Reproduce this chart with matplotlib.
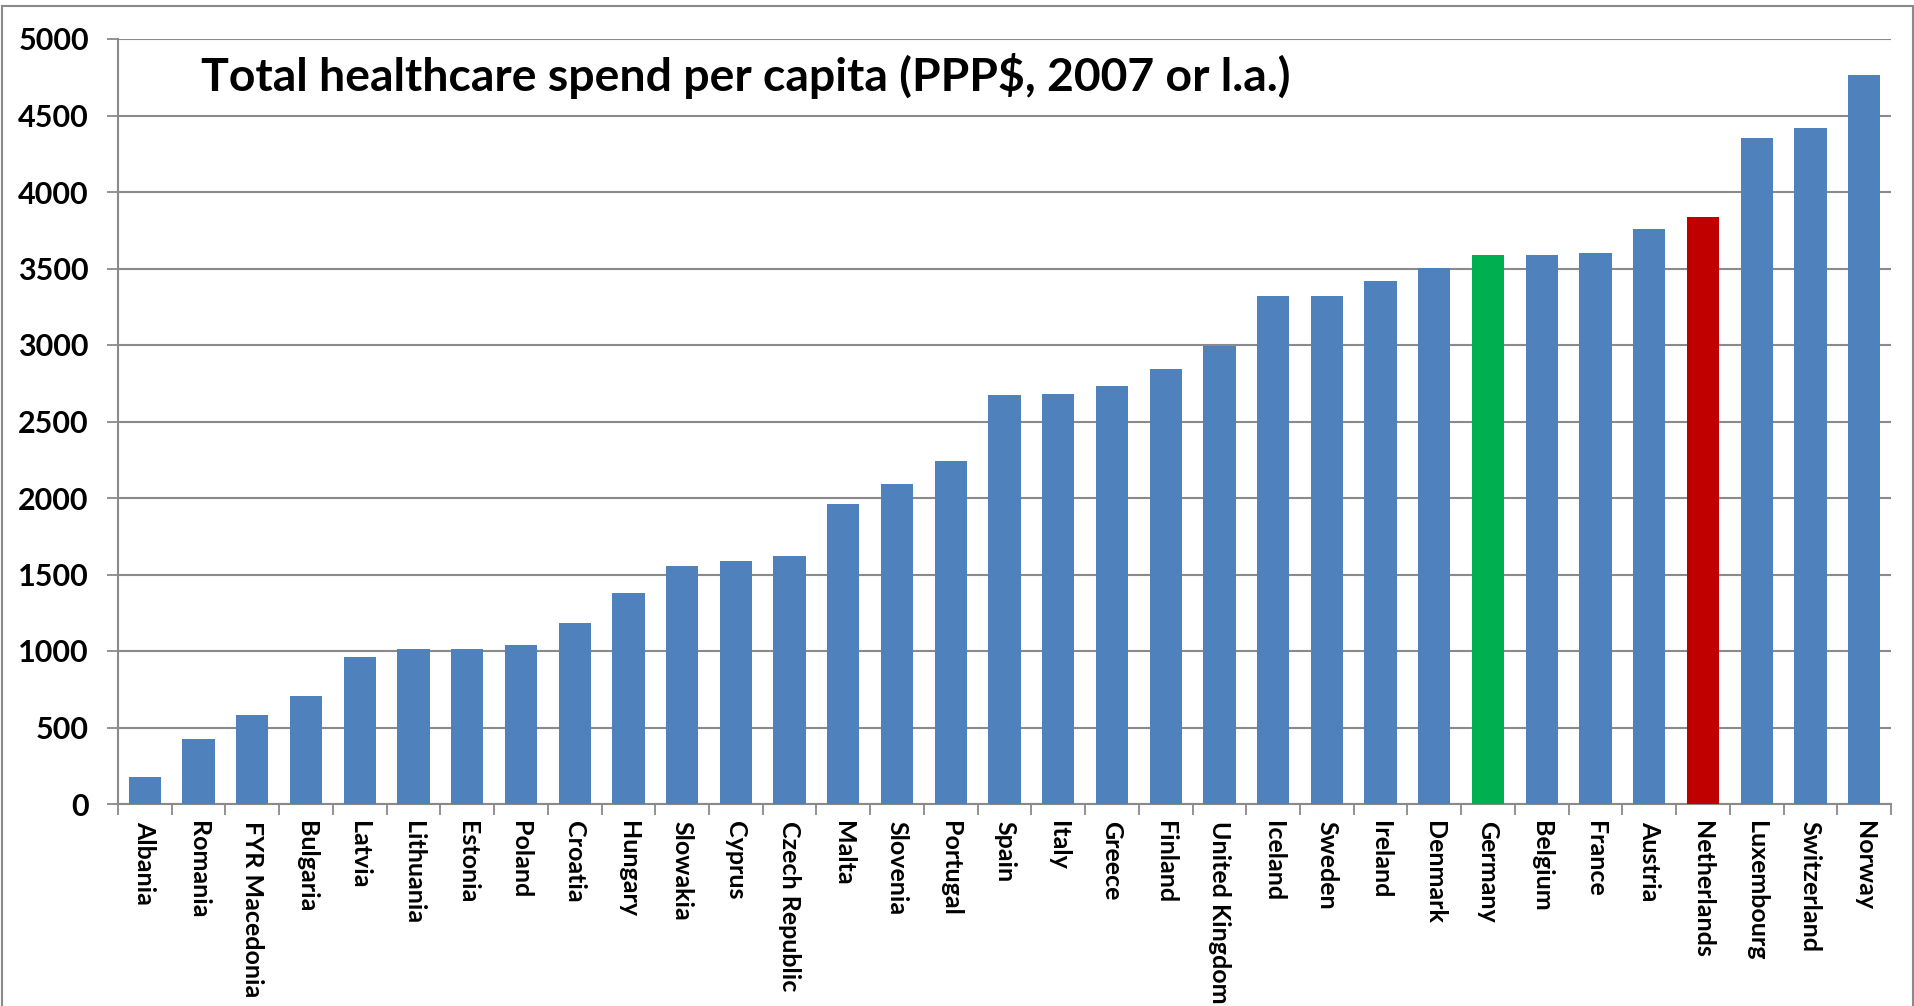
import matplotlib
matplotlib.use("Agg")
import matplotlib.pyplot as plt
from matplotlib.patches import Rectangle
import numpy as np

countries = [
    "Albania", "Romania", "FYR Macedonia", "Bulgaria", "Latvia", "Lithuania",
    "Estonia", "Poland", "Croatia", "Hungary", "Slowakia", "Cyprus",
    "Czech Republic", "Malta", "Slovenia", "Portugal", "Spain", "Italy",
    "Greece", "Finland", "United Kingdom", "Iceland", "Sweden", "Ireland",
    "Denmark", "Germany", "Belgium", "France", "Austria", "Netherlands",
    "Luxembourg", "Switzerland", "Norway",
]
spend = [
    178, 422, 582, 703, 960, 1012,
    1010, 1038, 1182, 1382, 1555, 1589,
    1621, 1958, 2092, 2242, 2672, 2682,
    2730, 2842, 2992, 3318, 3318, 3416,
    3506, 3588, 3588, 3600, 3760, 3835,
    4356, 4420, 4762,
]
highlight = {"Germany": "#00B050", "Netherlands": "#C00000"}
base_color = "#4F81BD"

yticks = [0, 500, 1000, 1500, 2000, 2500, 3000, 3500, 4000, 4500, 5000]
title = "Total healthcare spend per capita (PPP$, 2007 or l.a.)"

plt.rcParams["font.family"] = ["Lato", "DejaVu Sans"]
plt.rcParams["font.weight"] = "bold"

W, H = 1915, 1006
fig = plt.figure(figsize=(W / 100, H / 100), dpi=100)
fig.patch.set_facecolor("white")

# chart-area frame
fig.patches.append(Rectangle((2 / W, -0.05), (W - 4) / W, 1 - 6 / H + 0.05,
                             transform=fig.transFigure, fill=False,
                             edgecolor="#8a8a8a", linewidth=1.5))

ax = fig.add_axes([118 / W, 1 - 804 / H, (1891 - 118) / W, (804 - 39) / H])

x = np.arange(len(countries))
colors = [highlight.get(c, base_color) for c in countries]
ax.bar(x, spend, width=0.6, color=colors, zorder=3)

ax.set_xlim(-0.5, len(countries) - 0.5)
ax.set_ylim(0, 5000)
ax.set_yticks(yticks)
ax.set_yticklabels([str(v) for v in yticks], fontsize=22, fontweight="bold")
ax.yaxis.grid(True, color="#8a8a8a", linewidth=1.5, zorder=0)
ax.set_axisbelow(True)

ax.set_xticks(x)
ax.set_xticklabels(countries, rotation=-90, fontsize=18, fontweight="bold",
                   va="top", ha="center")
ax.set_xticks(np.arange(-0.5, len(countries)), minor=True)
ax.tick_params(axis="x", which="major", length=0, pad=12)
ax.tick_params(axis="x", which="minor", length=8, width=1.3, color="#8a8a8a")
ax.tick_params(axis="y", length=8, width=1.3, color="#8a8a8a", pad=13)

for s in ("top", "right"):
    ax.spines[s].set_visible(False)
for s in ("left", "bottom"):
    ax.spines[s].set_color("#8a8a8a")
    ax.spines[s].set_linewidth(1.5)

fig.text(201 / W, 1 - 76 / H, title, fontsize=33.4, fontweight="bold",
         ha="left", va="center")

fig.savefig("out.png", dpi=100)
